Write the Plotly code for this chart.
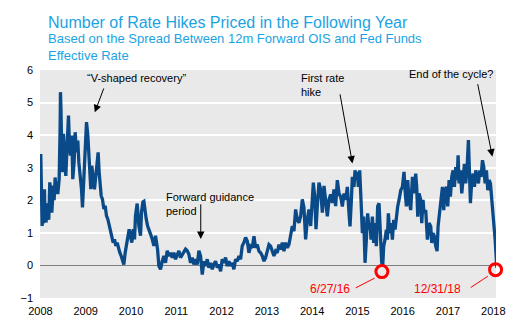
import plotly.graph_objects as go

# ---- data (decimal year, number of hikes priced) ----
years_a = [2008.000, 2008.007, 2008.022, 2008.037, 2008.052, 2008.066, 2008.088, 2008.103, 2008.125, 2008.140,
           2008.162, 2008.184, 2008.206, 2008.228, 2008.250, 2008.272, 2008.287, 2008.302, 2008.324, 2008.346,
           2008.361, 2008.383, 2008.413, 2008.435, 2008.442, 2008.453, 2008.464, 2008.486, 2008.508, 2008.530,
           2008.560, 2008.589, 2008.619, 2008.641, 2008.663, 2008.692, 2008.714, 2008.744, 2008.766, 2008.796,
           2008.825, 2008.847, 2008.877, 2008.906, 2008.928, 2008.958, 2008.987, 2009.017, 2009.046, 2009.068,
           2009.090, 2009.112, 2009.134, 2009.164, 2009.193, 2009.223, 2009.252, 2009.274, 2009.296, 2009.319,
           2009.341, 2009.370, 2009.400, 2009.429, 2009.458, 2009.488, 2009.517, 2009.547, 2009.576, 2009.606,
           2009.635, 2009.665, 2009.694, 2009.724, 2009.753, 2009.783, 2009.812, 2009.841, 2009.871, 2009.900,
           2009.930, 2009.959, 2009.989, 2010.018, 2010.048, 2010.077]
hikes_a = [2.10, 3.42, 2.30, 1.21, 1.60, 1.30, 2.34, 1.50, 1.32, 1.90,
           1.83, 1.40, 2.55, 2.30, 1.62, 2.30, 2.45, 2.00, 2.70, 2.30,
           2.55, 2.19, 2.65, 4.30, 5.32, 4.80, 3.99, 2.86, 4.04, 3.37,
           2.75, 3.68, 4.60, 3.68, 3.37, 3.99, 2.65, 3.17, 4.09, 3.47,
           3.83, 3.17, 2.75, 2.34, 1.78, 2.75, 3.37, 4.40, 3.99, 3.27,
           2.75, 2.34, 3.06, 2.65, 2.34, 2.75, 3.27, 3.47, 2.86, 2.55,
           2.14, 2.03, 1.73, 1.83, 1.52, 1.42, 1.21, 1.01, 0.90, 0.70,
           0.80, 0.60, 0.70, 0.49, 0.39, 0.29, 0.13, 0.03, 0.39, 0.60,
           0.90, 1.11, 0.90, 0.70, 1.11, 0.80]

years_b = [2010.099, 2010.136, 2010.173, 2010.210, 2010.232, 2010.262, 2010.284, 2010.306, 2010.335, 2010.365,
           2010.394, 2010.431, 2010.468, 2010.505, 2010.541, 2010.563, 2010.586, 2010.615, 2010.652, 2010.689,
           2010.726, 2010.762, 2010.799, 2010.836, 2010.873, 2010.910, 2010.947, 2010.983, 2011.020, 2011.057,
           2011.094, 2011.131, 2011.168, 2011.204, 2011.241, 2011.278, 2011.315, 2011.352, 2011.388, 2011.425,
           2011.462, 2011.499, 2011.536, 2011.573, 2011.610, 2011.646, 2011.683, 2011.720, 2011.757, 2011.794,
           2011.830, 2011.867, 2011.904, 2011.941, 2011.978, 2012.015, 2012.051, 2012.088, 2012.125, 2012.162,
           2012.199, 2012.236, 2012.272, 2012.309, 2012.346, 2012.383, 2012.420, 2012.456, 2012.493, 2012.530]
hikes_b = [1.53, 1.90, 1.22, 0.91, 1.64, 1.95, 1.97, 1.64, 1.43, 1.22,
           1.07, 0.96, 0.81, 0.60, 0.91, 0.70, 0.50, -0.02, -0.12, 0.13,
           0.29, 0.08, 0.45, 0.29, 0.39, 0.24, 0.39, 0.19, 0.34, 0.45,
           0.24, 0.34, 0.39, 0.50, 0.45, 0.34, 0.08, 0.24, 0.03, 0.19,
           0.03, 0.45, 0.29, -0.28, 0.13, -0.02, 0.19, -0.07, 0.08, -0.12,
           0.03, 0.13, -0.07, 0.03, -0.18, 0.19, 0.08, 0.24, -0.02, 0.13,
           -0.02, 0.08, -0.12, 0.19, 0.13, 0.29, 0.19, 0.60, 0.70, 0.86]

years_c = [2012.567, 2012.604, 2012.641, 2012.678, 2012.715, 2012.751, 2012.788, 2012.825, 2012.862, 2012.899,
           2012.936, 2012.972, 2013.009, 2013.046, 2013.083, 2013.120, 2013.156, 2013.193, 2013.230, 2013.267,
           2013.304, 2013.341, 2013.377, 2013.414, 2013.451, 2013.488, 2013.525, 2013.562, 2013.598, 2013.635,
           2013.672, 2013.709, 2013.746, 2013.783, 2013.819, 2013.856, 2013.893, 2013.930, 2013.967, 2014.004,
           2014.026, 2014.055, 2014.085, 2014.114, 2014.151, 2014.188, 2014.225, 2014.262, 2014.298, 2014.335,
           2014.372, 2014.409, 2014.446, 2014.482, 2014.519]
hikes_c = [0.75, 0.39, 0.59, 0.54, 0.90, 0.54, 0.64, 0.44, 0.39, 0.29,
           0.13, 0.24, 0.44, 0.64, 0.59, 0.39, 0.29, 0.44, 0.39, 0.64,
           0.49, 0.70, 0.44, 0.70, 0.54, 0.64, 1.00, 1.21, 1.05, 1.72,
           1.41, 1.31, 1.51, 2.03, 1.77, 0.80, 1.41, 1.72, 1.21, 2.13,
           2.54, 2.13, 1.11, 1.82, 2.54, 2.33, 1.62, 2.44, 1.92, 1.51,
           2.03, 2.18, 1.92, 2.33, 1.82]

years_d = [2014.556, 2014.593, 2014.630, 2014.667, 2014.703, 2014.740, 2014.777, 2014.814, 2014.836, 2014.866,
           2014.888, 2014.924, 2014.947, 2014.976, 2014.998, 2015.020, 2015.050, 2015.079, 2015.109, 2015.138,
           2015.168, 2015.197, 2015.226, 2015.256, 2015.278, 2015.300, 2015.330, 2015.359, 2015.389, 2015.418,
           2015.447, 2015.477, 2015.506, 2015.536, 2015.558, 2015.580, 2015.609, 2015.639, 2015.661, 2015.683,
           2015.713, 2015.742, 2015.772, 2015.801, 2015.831, 2015.860, 2015.889, 2015.919, 2015.956, 2015.993,
           2016.029, 2016.052, 2016.081, 2016.110, 2016.140, 2016.177, 2016.214, 2016.251]
hikes_d = [2.62, 2.21, 2.11, 1.81, 2.21, 2.01, 2.41, 1.60, 1.20, 2.01,
           2.72, 2.41, 2.92, 2.62, 2.87, 2.41, 2.92, 2.01, 0.99, 1.50,
           0.08, 0.79, 1.60, 1.10, 1.30, 0.79, 1.50, 0.69, 1.30, 0.59,
           1.81, 1.91, 0.89, 0.08, -0.02, 0.59, 0.79, 1.10, 0.79, 1.60,
           0.99, 1.30, 0.79, 1.40, 1.10, 1.50, 1.81, 2.01, 2.31, 2.41,
           2.87, 2.31, 1.81, 2.62, 2.01, 1.70, 2.72, 2.21]

years_e = [2016.287, 2016.309, 2016.332, 2016.361, 2016.398, 2016.420, 2016.449, 2016.471, 2016.508, 2016.545,
           2016.582, 2016.619, 2016.641, 2016.670, 2016.700, 2016.729, 2016.759, 2016.781, 2016.803, 2016.840,
           2016.877, 2016.906, 2016.936, 2016.965, 2016.994, 2017.024, 2017.053, 2017.083, 2017.112, 2017.142,
           2017.171, 2017.201, 2017.223, 2017.245, 2017.274, 2017.304, 2017.333, 2017.363, 2017.392, 2017.422,
           2017.451, 2017.473, 2017.495, 2017.525, 2017.554, 2017.584, 2017.613, 2017.643, 2017.672, 2017.702,
           2017.731, 2017.761, 2017.790, 2017.819, 2017.849, 2017.878, 2017.908, 2017.937, 2017.967, 2017.996,
           2018.018, 2018.041, 2018.063, 2018.077]
hikes_e = [2.82, 2.41, 1.50, 2.21, 2.01, 1.30, 2.01, 1.60, 1.70, 0.79,
           1.30, 1.20, 0.69, 0.99, 0.89, 0.59, 0.44, 1.20, 1.50, 2.01,
           2.41, 1.70, 2.31, 2.41, 1.81, 2.62, 2.11, 2.72, 2.92, 2.41,
           3.02, 2.62, 3.38, 2.52, 2.92, 2.21, 2.72, 3.12, 2.52, 3.02,
           3.85, 3.02, 1.91, 2.62, 2.82, 2.41, 2.92, 2.72, 2.52, 2.92,
           2.72, 3.23, 3.02, 2.52, 2.92, 2.31, 2.62, 2.52, 2.01, 1.81,
           1.40, 0.79, 0.28, -0.07]

dates = years_a + years_b + years_c + years_d + years_e
hikes = hikes_a + hikes_b + hikes_c + hikes_d + hikes_e

x_tick_vals = [2008, 2009, 2010, 2011, 2012, 2013, 2014, 2015, 2016, 2017, 2018]
x_tick_text = ["2008", "2009", "2010", "2011", "2012", "2013", "2014", "2015", "2016", "2017", "2018"]
y_tick_vals = [-1, 0, 1, 2, 3, 4, 5, 6]

circle_dates = [2015.54, 2018.05]
circle_vals = [-0.19, -0.13]
circle_labels = ["6/27/16", "12/31/18"]

title_text = "Number of Rate Hikes Priced in the Following Year"
subtitle_text = "Based on the Spread Between 12m Forward OIS and Fed Funds<br>Effective Rate"

FONT = "Liberation Sans, Arial, sans-serif"
BLUE = "#0B4A88"
TITLE_BLUE = "#1BA3E2"
RED = "#FF0000"

fig = go.Figure()
fig.add_trace(go.Scatter(x=dates, y=hikes, mode="lines",
                         line=dict(color=BLUE, width=3.3), hoverinfo="skip"))
fig.add_trace(go.Scatter(x=circle_dates, y=circle_vals, mode="markers", cliponaxis=False,
                         marker=dict(symbol="circle-open", size=12, color=RED,
                                     line=dict(color=RED, width=3)), hoverinfo="skip"))

ann = []
ann.append(dict(xref="paper", yref="paper", x=0.013, y=1.2105, xanchor="left", yanchor="middle",
                text=title_text, showarrow=False, font=dict(family=FONT, size=16, color=TITLE_BLUE)))
ann.append(dict(xref="paper", yref="paper", x=0.013, y=1.1009, xanchor="left", yanchor="middle",
                align="left", text=subtitle_text, showarrow=False,
                font=dict(family=FONT, size=13, color=TITLE_BLUE)))

# text labels
text_notes = [
    ("\u201cV-shaped recovery\u201d", 2010.11, 5.75, "center"),
    ("Forward guidance<br>period", 2010.72, 1.88, "left"),
    ("First rate<br>hike", 2013.70, 5.54, "left"),
    ("End of the cycle?", 2017.06, 5.88, "center"),
]
for t, x, y, anc in text_notes:
    ann.append(dict(xref="x", yref="y", x=x, y=y, text=t, showarrow=False, xanchor=anc,
                    yanchor="middle", align="left", font=dict(family=FONT, size=11, color="black")))

# arrows (tip x, tip y, tail x, tail y)
arrows = [
    (2009.20, 4.70, 2009.41, 5.48),
    (2011.54, 0.81, 2011.54, 1.92),
    (2014.89, 3.13, 2014.61, 5.30),
    (2017.98, 3.34, 2017.65, 5.61),
]
for x, y, axv, ayv in arrows:
    ann.append(dict(xref="x", yref="y", x=x, y=y, axref="x", ayref="y", ax=axv, ay=ayv,
                    text="", showarrow=True, arrowhead=2, arrowsize=1.5, arrowwidth=1,
                    arrowcolor="black", standoff=0))

# red date labels
label_pos = [(2014.40, -0.72), (2016.76, -0.72)]
for (x, y), t in zip(label_pos, circle_labels):
    ann.append(dict(xref="x", yref="y", x=x, y=y, text=t, showarrow=False,
                    xanchor="center", yanchor="middle", font=dict(family=FONT, size=12, color=RED)))

leaders = [((2014.96, -0.69), (2015.38, -0.39)), ((2017.50, -0.68), (2017.88, -0.33))]
shapes = [dict(type="line", xref="x", yref="y", x0=a[0], y0=a[1], x1=b[0], y1=b[1],
               line=dict(color=RED, width=1)) for a, b in leaders]

fig.update_layout(
    width=525, height=324,
    margin=dict(l=40, r=29, t=70, b=26, pad=0, autoexpand=False),
    paper_bgcolor="white", plot_bgcolor="#E9E9E9",
    showlegend=False,
    font=dict(family=FONT, size=11, color="black"),
    annotations=ann, shapes=shapes,
    xaxis=dict(range=[2007.99, 2018.06], tickvals=x_tick_vals, ticktext=x_tick_text,
               showgrid=False, zeroline=False, showline=False, ticks="", automargin=False,
               ticklabelstandoff=5, tickfont=dict(family=FONT, size=11, color="black"),
               fixedrange=True),
    yaxis=dict(range=[-1, 6], tickvals=y_tick_vals, showgrid=True, gridcolor="white",
               gridwidth=2, zeroline=True, zerolinecolor="#7F7F7F", zerolinewidth=1,
               showline=False, ticks="", ticklabelstandoff=6, automargin=False,
               tickfont=dict(family=FONT, size=11, color="black"), fixedrange=True),
)

fig.write_html("out.html", config={"displayModeBar": False})
